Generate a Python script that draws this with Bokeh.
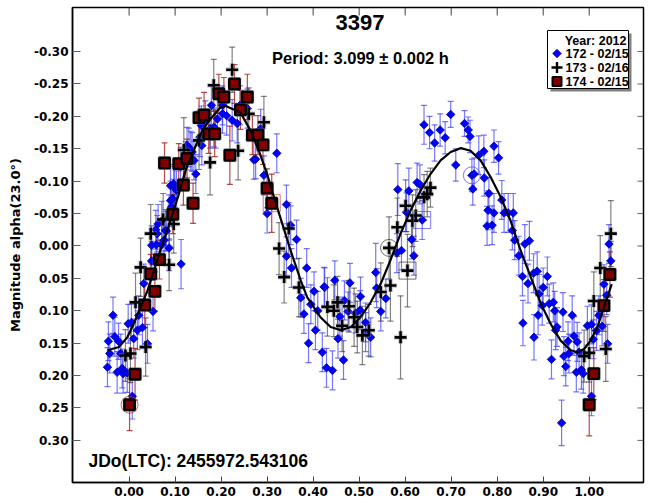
from bokeh.plotting import figure
from bokeh.models import (Range1d, FixedTicker, NumeralTickFormatter,
                          Whisker, TeeHead, ColumnDataSource, Label)
from bokeh.embed import file_html
from bokeh.resources import INLINE
import math

# ---------------- data (phase, magnitude, error) ----------------
title_text = "3397"
period_text = "Period: 3.099 \u00b1 0.002 h"
jd_text = "JDo(LTC): 2455972.543106"
ylabel_text = "Magnitude alpha(23.0\u00b0)"
legend_title = "Year: 2012"
series_names = ["172 - 02/15", "173 - 02/16", "174 - 02/15"]

x_ticks = [0.0, 0.1, 0.2, 0.3, 0.4, 0.5, 0.6, 0.7, 0.8, 0.9, 1.0]
y_ticks = [-0.30, -0.25, -0.20, -0.15, -0.10, -0.05, 0.0, 0.05, 0.10, 0.15, 0.20, 0.25, 0.30]

# session 172 (blue diamonds)
s172 = [
    (-0.035, 0.107, 0.028), (-0.045, 0.147, 0.030), (-0.031, 0.140, 0.030), (-0.023, 0.147, 0.028),
    (-0.042, 0.166, 0.030), (-0.047, 0.187, 0.030), (-0.018, 0.166, 0.030), (-0.015, 0.189, 0.030),
    (-0.026, 0.195, 0.032), (-0.013, 0.197, 0.030), (-0.004, 0.196, 0.030), (0.007, 0.232, 0.035),
    (0.010, 0.143, 0.030), (0.018, 0.130, 0.030), (0.005, 0.118, 0.028), (-0.002, 0.120, 0.030),
    (0.029, 0.126, 0.032), (0.021, 0.107, 0.030), (0.040, 0.151, 0.030), (0.052, 0.101, 0.030),
    (0.032, 0.058, 0.030), (0.049, 0.023, 0.030), (0.059, -0.002, 0.030), (0.071, -0.002, 0.030),
    (0.087, 0.003, 0.035), (0.113, 0.028, 0.038), (0.049, -0.001, 0.030), (0.058, -0.025, 0.030),
    (0.071, -0.039, 0.030), (0.061, -0.019, 0.028), (0.076, -0.009, 0.030), (0.079, -0.024, 0.032),
    (0.087, -0.044, 0.035), (0.090, -0.070, 0.030), (0.099, -0.091, 0.032), (0.090, -0.093, 0.030),
    (0.103, -0.086, 0.030), (0.097, -0.096, 0.030), (0.095, -0.073, 0.030), (0.092, -0.060, 0.030),
    (0.063, -0.034, 0.030), (0.081, -0.023, 0.030), (0.112, -0.122, 0.030), (0.123, -0.129, 0.032),
    (0.130, -0.152, 0.030), (0.137, -0.145, 0.030), (0.141, -0.132, 0.030), (0.126, -0.155, 0.028),
    (0.145, -0.111, 0.030), (0.154, -0.168, 0.030), (0.157, -0.186, 0.030), (0.166, -0.194, 0.030),
    (0.179, -0.217, 0.030), (0.176, -0.181, 0.030), (0.192, -0.196, 0.030), (0.184, -0.183, 0.030),
    (0.158, -0.155, 0.030), (0.134, -0.147, 0.030), (0.203, -0.204, 0.030), (0.212, -0.201, 0.030),
    (0.224, -0.194, 0.032), (0.235, -0.189, 0.030), (0.188, -0.181, 0.030), (0.241, -0.217, 0.030),
    (0.257, -0.212, 0.030), (0.203, -0.217, 0.030), (0.286, -0.181, 0.030), (0.321, -0.143, 0.030),
    (0.275, -0.134, 0.030), (0.271, -0.133, 0.030), (0.293, -0.109, 0.030), (0.300, -0.050, 0.030),
    (0.342, -0.064, 0.030), (0.351, -0.032, 0.030), (0.364, -0.010, 0.030), (0.342, 0.016, 0.030),
    (0.353, 0.034, 0.030), (0.386, 0.034, 0.030), (0.402, 0.070, 0.030), (0.425, 0.064, 0.030),
    (0.373, 0.080, 0.030), (0.380, 0.105, 0.030), (0.395, 0.090, 0.030), (0.405, 0.130, 0.030),
    (0.410, 0.100, 0.030), (0.390, 0.150, 0.030),
    (0.424, 0.063, 0.030), (0.447, 0.053, 0.030), (0.480, 0.057, 0.030), (0.503, 0.078, 0.030),
    (0.468, 0.084, 0.030), (0.458, 0.109, 0.030), (0.476, 0.101, 0.030), (0.492, 0.104, 0.030),
    (0.502, 0.099, 0.030), (0.514, 0.118, 0.030), (0.514, 0.133, 0.030), (0.525, 0.141, 0.030),
    (0.454, 0.143, 0.030), (0.466, 0.176, 0.030), (0.420, 0.164, 0.030), (0.429, 0.188, 0.030),
    (0.442, 0.192, 0.030), (0.536, 0.041, 0.045), (0.538, 0.065, 0.030), (0.547, 0.101, 0.030),
    (0.558, 0.081, 0.030), (0.584, -0.087, 0.040), (0.608, -0.085, 0.035), (0.626, -0.098, 0.030),
    (0.632, -0.095, 0.030), (0.603, -0.052, 0.030), (0.637, -0.040, 0.030), (0.614, -0.010, 0.030),
    (0.582, 0.011, 0.030), (0.592, 0.007, 0.030), (0.619, 0.015, 0.030),
    (0.641, -0.187, 0.030), (0.653, -0.175, 0.025), (0.664, -0.159, 0.028), (0.676, -0.179, 0.025),
    (0.687, -0.167, 0.025), (0.699, -0.203, 0.020), (0.710, -0.125, 0.025), (0.729, -0.189, 0.020),
    (0.737, -0.179, 0.020), (0.741, -0.169, 0.025), (0.745, -0.109, 0.025), (0.750, -0.111, 0.025),
    (0.747, -0.088, 0.025), (0.760, -0.140, 0.030), (0.771, -0.146, 0.025), (0.793, -0.154, 0.025),
    (0.803, -0.136, 0.025), (0.772, -0.105, 0.028), (0.782, -0.081, 0.025), (0.780, -0.055, 0.030),
    (0.793, -0.051, 0.030), (0.778, -0.031, 0.030), (0.789, -0.032, 0.030), (0.810, -0.071, 0.030),
    (0.815, -0.051, 0.030), (0.824, -0.051, 0.030), (0.835, -0.051, 0.030), (0.833, -0.024, 0.030),
    (0.838, -0.009, 0.030), (0.860, -0.003, 0.030), (0.870, -0.008, 0.030), (0.847, 0.015, 0.030),
    (0.855, 0.047, 0.030), (0.879, 0.042, 0.030), (0.887, 0.039, 0.030), (0.867, 0.058, 0.030),
    (0.909, 0.047, 0.030), (0.900, 0.064, 0.030), (0.891, 0.074, 0.030), (0.913, 0.089, 0.030),
    (0.922, 0.087, 0.030), (0.898, 0.092, 0.030), (0.925, 0.100, 0.030), (0.943, 0.102, 0.030),
    (0.889, 0.107, 0.030), (0.930, 0.125, 0.030), (0.927, 0.130, 0.030), (0.856, 0.119, 0.035),
    (0.880, 0.141, 0.035), (0.963, 0.107, 0.030), (0.967, 0.139, 0.030), (0.954, 0.147, 0.030),
    (0.974, 0.148, 0.030), (0.945, 0.170, 0.030), (0.956, 0.166, 0.030), (0.918, 0.175, 0.030),
    (0.949, 0.186, 0.030), (0.978, 0.164, 0.030), (0.972, 0.195, 0.030), (0.983, 0.191, 0.030),
    (0.987, 0.197, 0.030), (0.996, 0.123, 0.030), (1.005, 0.121, 0.030), (1.009, 0.144, 0.030),
    (1.016, 0.131, 0.030), (1.021, 0.107, 0.030), (1.028, 0.124, 0.030), (1.040, 0.151, 0.030),
    (1.032, 0.059, 0.030), (1.038, 0.076, 0.030), (1.047, 0.023, 0.030), (0.940, 0.273, 0.035),
    (1.005, 0.232, 0.030), (1.043, -0.003, 0.030),
]

# session 173 (black crosses)
s173 = [
    (0.119, -0.148, 0.050), (0.047, -0.019, 0.045), (0.074, -0.041, 0.040), (0.097, -0.034, 0.045),
    (0.176, -0.129, 0.050), (0.152, -0.163, 0.045), (0.224, -0.272, 0.035), (0.184, -0.248, 0.040),
    (0.237, -0.147, 0.045), (0.260, -0.204, 0.040), (0.293, -0.191, 0.040), (0.326, 0.004, 0.040),
    (0.347, -0.027, 0.040), (0.337, 0.048, 0.040), (0.369, 0.064, 0.045), (0.431, 0.094, 0.045),
    (0.445, 0.100, 0.040), (0.453, 0.087, 0.040), (0.478, 0.093, 0.040), (0.463, 0.123, 0.040),
    (0.489, 0.110, 0.045), (0.496, 0.125, 0.040), (0.507, 0.138, 0.045), (0.521, 0.130, 0.040),
    (0.547, 0.071, 0.045), (0.568, 0.061, 0.055), (0.565, 0.003, 0.048), (0.583, -0.029, 0.045),
    (0.601, -0.062, 0.040), (0.605, 0.038, 0.056), (0.590, 0.141, 0.064), (0.616, -0.039, 0.040),
    (0.623, -0.047, 0.040), (0.641, -0.075, 0.035), (0.648, -0.080, 0.035), (0.655, -0.090, 0.030),
    (0.989, 0.170, 0.040), (1.000, 0.165, 0.045), (1.010, 0.085, 0.045), (1.024, 0.034, 0.050),
    (1.036, 0.159, 0.050), (1.047, -0.019, 0.051), (0.025, 0.033, 0.045), (0.087, 0.029, 0.040),
    (0.014, 0.087, 0.045), (-0.008, 0.169, 0.040), (0.003, 0.166, 0.045), (0.036, 0.156, 0.045),
]

# session 174 (dark red squares)
s174 = [
    (0.077, -0.128, 0.031), (0.108, -0.127, 0.031), (0.126, -0.135, 0.030), (0.118, -0.094, 0.031),
    (0.095, -0.049, 0.030), (0.139, -0.066, 0.031), (0.152, -0.198, 0.030), (0.163, -0.202, 0.035),
    (0.173, -0.173, 0.030), (0.186, -0.173, 0.035), (0.195, -0.235, 0.030), (0.206, -0.230, 0.030),
    (0.229, -0.250, 0.030), (0.257, -0.230, 0.035), (0.242, -0.210, 0.030), (0.219, -0.140, 0.045),
    (0.268, -0.171, 0.030), (0.280, -0.171, 0.030), (0.291, -0.156, 0.030), (0.300, -0.089, 0.030),
    (0.310, -0.066, 0.045), (0.047, 0.043, 0.030), (0.056, 0.070, 0.030), (0.034, 0.091, 0.035),
    (0.013, 0.198, 0.040), (0.001, 0.245, 0.040), (0.066, 0.021, 0.030), (1.045, 0.044, 0.035),
    (1.032, 0.092, 0.040), (1.010, 0.197, 0.040), (1.000, 0.245, 0.048),
]

# Fourier fit curve
curve_phase = [-0.047, -0.022, -0.004, 0.007, 0.021, 0.040, 0.054, 0.068, 0.090, 0.108, 0.123,
               0.145, 0.159, 0.177, 0.199, 0.210, 0.242, 0.264, 0.282, 0.300, 0.315, 0.333,
               0.351, 0.373, 0.387, 0.416, 0.438, 0.460, 0.482, 0.503, 0.525, 0.547, 0.568,
               0.590, 0.612, 0.634, 0.655, 0.677, 0.699, 0.721, 0.742, 0.764, 0.786, 0.808,
               0.829, 0.851, 0.873, 0.895, 0.916, 0.938, 0.960, 0.974, 0.989, 1.003, 1.018,
               1.032, 1.049]
curve_mag = [0.161, 0.156, 0.141, 0.125, 0.102, 0.069, 0.038, 0.007, -0.039, -0.080, -0.117,
             -0.155, -0.178, -0.196, -0.214, -0.216, -0.206, -0.178, -0.147, -0.111, -0.075, -0.034,
             0.007, 0.053, 0.079, 0.110, 0.125, 0.130, 0.125, 0.110, 0.087, 0.058, 0.022,
             -0.019, -0.055, -0.086, -0.111, -0.132, -0.145, -0.151, -0.147, -0.132, -0.106, -0.075,
             -0.039, 0.007, 0.048, 0.089, 0.120, 0.146, 0.161, 0.164, 0.159, 0.146, 0.125,
             0.094, 0.059]

# points drawn with an extra hollow highlight marker
hl_circle = [(0.001, 0.245, "#b03030"), (0.745, -0.109, "#4040ff"), (0.565, 0.003, "#303030")]
hl_square = [(0.605, 0.038, "#303030"), (0.637, -0.040, "#4040ff"), (0.310, -0.066, "#c04040")]

# ---------------- layout ----------------
FL, FR, FT, FB = 72, 643, 7, 482
X0, X1 = -0.123, 1.118
YB, YT = 0.365, -0.368


def px2x(px):
    return X0 + (px - FL) / (FR - FL) * (X1 - X0)


def py2y(py):
    return YT + (py - FT) / (FB - FT) * (YB - YT)


p = figure(width=649, height=504, x_range=Range1d(X0, X1), y_range=Range1d(YB, YT),
           output_backend="svg", toolbar_location=None,
           min_border_left=FL, min_border_right=649 - FR, min_border_top=FT, min_border_bottom=504 - FB)
p.xgrid.visible = False
p.ygrid.visible = False
p.outline_line_color = "black"
p.outline_line_width = 1.5
p.background_fill_color = "white"
p.border_fill_color = "white"

TICK_FONT = "DejaVu Sans"
for ax in p.xaxis:
    ax.ticker = FixedTicker(ticks=x_ticks)
    ax.formatter = NumeralTickFormatter(format="0.00")
    ax.major_tick_in = 6
    ax.major_tick_out = 0
    ax.minor_tick_in = 0
    ax.minor_tick_out = 0
    ax.major_tick_line_color = "#404040"
    ax.axis_line_color = "black"
    ax.axis_line_width = 1.5
    ax.major_label_text_font = TICK_FONT
    ax.major_label_text_font_style = "bold"
    ax.major_label_text_font_size = "12px"
    ax.major_label_text_color = "black"
    ax.major_label_standoff = 4
for ax in p.yaxis:
    ax.ticker = FixedTicker(ticks=y_ticks)
    ax.formatter = NumeralTickFormatter(format="0.00")
    ax.major_tick_in = 8
    ax.major_tick_out = 0
    ax.minor_tick_in = 0
    ax.minor_tick_out = 0
    ax.major_tick_line_color = "#606060"
    ax.axis_line_color = "black"
    ax.axis_line_width = 1.5
    ax.major_label_text_font = TICK_FONT
    ax.major_label_text_font_style = "bold"
    ax.major_label_text_font_size = "12px"
    ax.major_label_text_color = "black"
    ax.major_label_standoff = 4
    ax.axis_label = ylabel_text
    ax.axis_label_text_font = TICK_FONT
    ax.axis_label_text_font_style = "bold"
    ax.axis_label_text_font_size = "13px"
    ax.axis_label_text_color = "black"
    ax.axis_label_standoff = 8

# inward ticks on the top and right frame edges (no labels there)
top_len = py2y(FT + 8) - YT
p.segment(x0=x_ticks, x1=x_ticks, y0=[YT] * len(x_ticks), y1=[YT + top_len] * len(x_ticks),
          line_color="#404040", line_width=1)
right_len = X1 - px2x(FR - 6)
p.segment(x0=[X1] * len(y_ticks), x1=[X1 - right_len] * len(y_ticks), y0=y_ticks, y1=y_ticks,
          line_color="#606060", line_width=1)


def add_errors(rows, color, alpha):
    src = ColumnDataSource(dict(
        base=[r[0] for r in rows],
        upper=[r[1] + r[2] for r in rows],
        lower=[r[1] - r[2] for r in rows],
    ))
    w = Whisker(source=src, base="base", upper="upper", lower="lower", dimension="height",
                line_color=color, line_alpha=alpha, line_width=1.2,
                upper_head=TeeHead(size=6, line_color=color, line_alpha=alpha, line_width=1.2),
                lower_head=TeeHead(size=6, line_color=color, line_alpha=alpha, line_width=1.2))
    p.add_layout(w)


add_errors(s172, "#3030ff", 0.65)
add_errors(s173, "#303030", 0.6)
add_errors(s174, "#a01010", 0.75)

BLUE, DARKRED = "#0000ff", "#800000"

p.scatter([r[0] for r in s172], [r[1] for r in s172], marker="square", size=6, angle=math.pi / 4,
          fill_color=BLUE, line_color="#0000a0", line_width=0.8)
p.scatter([r[0] for r in s173], [r[1] for r in s173], marker="cross", size=13,
          line_color="#909090", line_alpha=0.4, line_width=5)
p.scatter([r[0] for r in s173], [r[1] for r in s173], marker="cross", size=12,
          line_color="black", line_width=2.6)
p.scatter([r[0] for r in s174], [r[1] for r in s174], marker="square", size=14,
          fill_color="#909090", fill_alpha=0.35, line_color=None)
p.scatter([r[0] for r in s174], [r[1] for r in s174], marker="square", size=10.5,
          fill_color=DARKRED, line_color="black", line_width=2.4)

p.scatter([h[0] for h in hl_circle], [h[1] for h in hl_circle], marker="circle", size=17,
          fill_color=None, line_color=[h[2] for h in hl_circle], line_alpha=0.7, line_width=1)
p.scatter([h[0] for h in hl_square], [h[1] for h in hl_square], marker="square", size=17,
          fill_color=None, line_color=[h[2] for h in hl_square], line_alpha=0.7, line_width=1)

p.line(curve_phase, curve_mag, line_color="black", line_width=2.2, line_join="round")

# ---------------- legend box (drawn above the data) ----------------
p.quad(left=[px2x(550)], right=[px2x(631)], top=[py2y(33)], bottom=[py2y(91)],
       fill_color="#808080", line_color=None)
p.quad(left=[px2x(547)], right=[px2x(628)], top=[py2y(30)], bottom=[py2y(88)],
       fill_color="white", line_color="black", line_width=1)
lx = px2x(556.5)
ly = [py2y(53), py2y(67), py2y(81)]
p.scatter([lx], [ly[0]], marker="square", size=6, angle=math.pi / 4,
          fill_color=BLUE, line_color="#0000a0", line_width=0.8)
p.scatter([lx], [ly[1]], marker="cross", size=11, line_color="black", line_width=2.4)
p.scatter([lx], [ly[2]], marker="square", size=9, fill_color=DARKRED,
          line_color="black", line_width=2)

LEG_FONT = "Liberation Sans"
p.add_layout(Label(x=px2x(626), y=py2y(40), text=legend_title, text_align="right",
                   text_baseline="middle", text_font=LEG_FONT, text_font_style="bold",
                   text_font_size="12.5px", text_color="black"))
for name, yy in zip(series_names, ly):
    p.add_layout(Label(x=px2x(565), y=yy, text=name, text_align="left",
                       text_baseline="middle", text_font=LEG_FONT, text_font_style="bold",
                       text_font_size="12.5px", text_color="black"))

# ---------------- texts ----------------
p.add_layout(Label(x=px2x(359.5), y=py2y(22), text=title_text, text_align="center",
                   text_baseline="middle", text_font="Liberation Sans", text_font_style="bold",
                   text_font_size="22px", text_color="black"))
p.add_layout(Label(x=px2x(360), y=py2y(57), text=period_text, text_align="center",
                   text_baseline="middle", text_font="Liberation Sans", text_font_style="bold",
                   text_font_size="16.5px", text_color="black"))
p.add_layout(Label(x=px2x(88), y=py2y(460), text=jd_text, text_align="left",
                   text_baseline="middle", text_font="Liberation Sans", text_font_style="bold",
                   text_font_size="17.5px", text_color="black"))

open("out.html", "w").write(file_html(p, INLINE))
